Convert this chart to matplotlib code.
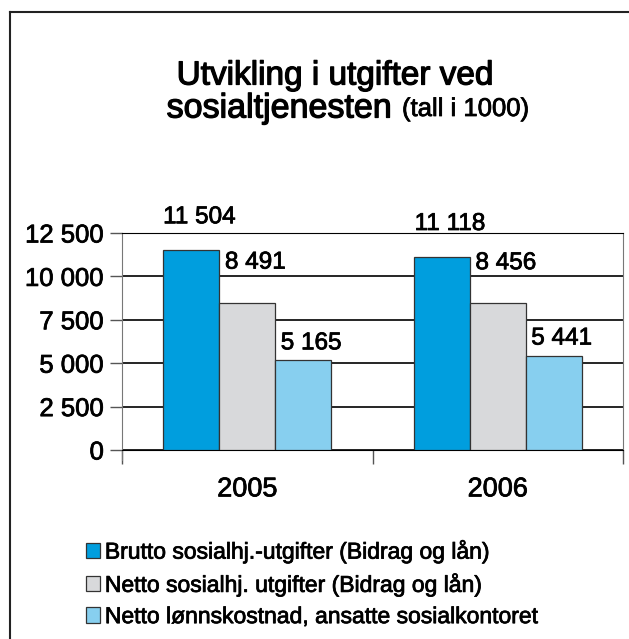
import numpy as np
import matplotlib
matplotlib.use('Agg')
from matplotlib import pyplot as plt
from matplotlib import patheffects as pe
from matplotlib.lines import Line2D
from matplotlib.patches import Patch

plt.rcParams['font.family'] = ['Liberation Sans', 'DejaVu Sans']

years = ['2005', '2006']
series = ['Brutto sosialhj.-utgifter (Bidrag og lån)',
          'Netto sosialhj. utgifter (Bidrag og lån)',
          'Netto lønnskostnad, ansatte sosialkontoret']
brutto = [11504, 11118]
netto = [8491, 8456]
lonn = [5165, 5441]
colors = ['#009ede', '#d8d9db', '#87cfef']
label_dy = [33, 40, 17]   # label lift above bar top, pixels

# slightly heavier strokes for the regular face
thick = [pe.withStroke(linewidth=0.55, foreground='black')]
heavy = [pe.withStroke(linewidth=0.9, foreground='black')]

W, H = 629, 639
fig = plt.figure(figsize=(W / 100, H / 100), dpi=100)
ax = fig.add_axes([122 / W, 1 - 450 / H, (623 - 122) / W, (450 - 233) / H])

x = np.arange(len(years))
bw = 0.223
for i, vals in enumerate([brutto, netto, lonn]):
    pos = x + (i - 1) * bw
    ax.bar(pos, vals, bw, color=colors[i], edgecolor='#333333', linewidth=0.9, zorder=3)
    for px, v in zip(pos, vals):
        ax.annotate(f'{v:,}'.replace(',', ' '), (px, v), xytext=(8, label_dy[i]),
                    textcoords='offset pixels', ha='center', va='center',
                    fontsize=17.5, annotation_clip=False, path_effects=thick)

ax.set_xlim(-0.5, 1.5)
ax.set_ylim(0, 12500)
yt = np.arange(0, 12501, 2500)
ax.set_yticks(yt)
ax.set_yticklabels([f'{v:,}'.replace(',', ' ') for v in yt], fontsize=18.5)
for t in ax.get_yticklabels():
    t.set_path_effects(thick)
ax.yaxis.grid(True, color='black', linewidth=1.2, zorder=0)
ax.tick_params(axis='y', length=9, width=1, color='#555555', pad=4)

# category boundary ticks
ax.set_xticks([-0.5, 0.5, 1.5])
ax.set_xticklabels([])
ax.set_xticks(x, minor=True)
ax.set_xticklabels(years, minor=True, fontsize=19.5)
for t in ax.get_xticklabels(minor=True):
    t.set_path_effects(thick)
ax.tick_params(axis='x', which='major', length=10, width=1, color='#555555', direction='out')
ax.tick_params(axis='x', which='minor', length=0, pad=19)

for s in ['left', 'right']:
    ax.spines[s].set_color('#777777')
ax.spines['top'].set_color('black')
ax.spines['bottom'].set_color('black')
ax.spines['left'].set_bounds(-600, 12500)

# heading
fig.text(335 / W, 1 - 76 / H, 'Utvikling i utgifter ved', ha='center', va='center',
         fontsize=24, path_effects=heavy)
fig.text(392 / W, 1 - 109 / H, 'sosialtjenesten', ha='right', va='center',
         fontsize=24.5, path_effects=heavy)
fig.text(402 / W, 1 - 109 / H, '(tall i 1000)', ha='left', va='center',
         fontsize=18.5, path_effects=thick)

handles = [Patch(facecolor=c, edgecolor='#333333', linewidth=0.9) for c in colors]
leg = fig.legend(handles, series, loc='upper left', bbox_to_anchor=(65 / W, 1 - 518 / H),
                 frameon=False, fontsize=16.5, handlelength=0.64, handleheight=0.64,
                 handletextpad=0.2, labelspacing=0.36)
for t in leg.get_texts():
    t.set_path_effects(thick)

# outer frame
fig.add_artist(Line2D([10 / W, 10 / W], [0, 1 - 12 / H], color='#222222', linewidth=1.5))
fig.add_artist(Line2D([10 / W, 1], [1 - 12 / H, 1 - 12 / H], color='#222222', linewidth=1.5))

fig.savefig('out.png', dpi=100)
